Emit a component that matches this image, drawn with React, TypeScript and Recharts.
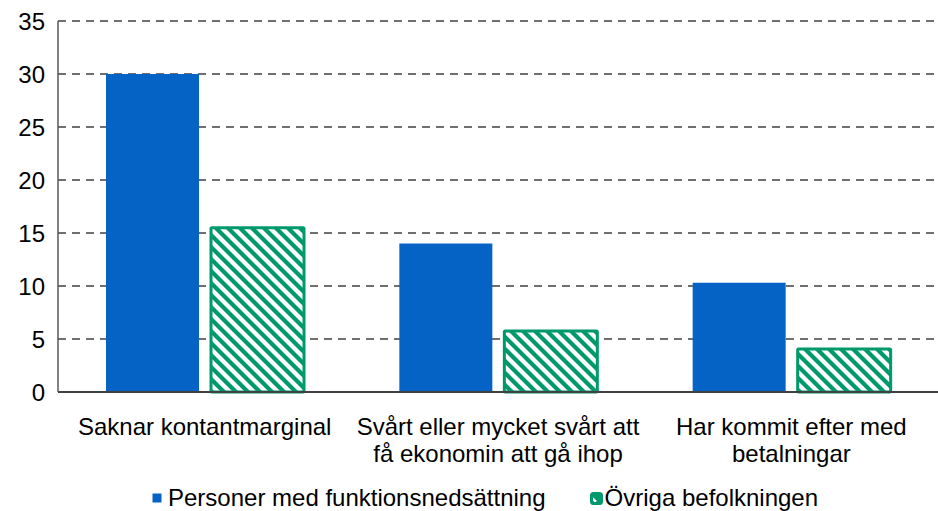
import React from "react";
import { BarChart, Bar, XAxis, YAxis, CartesianGrid, Legend } from "recharts";

const categories: string[][] = [
  ["Saknar kontantmarginal"],
  ["Svårt eller mycket svårt att", "få ekonomin att gå ihop"],
  ["Har kommit efter med", "betalningar"],
];
const disabled: number[] = [30.0, 14.0, 10.3];
const others: number[] = [15.5, 5.75, 4.05];
const yTicks: number[] = [0, 5, 10, 15, 20, 25, 30, 35];
const seriesNames = ["Personer med funktionsnedsättning", "Övriga befolkningen"];

const BLUE = "#0563C6";
const GREEN = "#00996B";
const FONT = "'Liberation Sans', Arial, sans-serif";
const FS = 24;

const data = categories.map((c, i) => ({
  name: c.join(" "),
  a: disabled[i],
  b: others[i],
}));

const XTick = (props: any) => {
  const { x, y, payload } = props;
  const lines: string[] = categories[payload.index] || [payload.value];
  return (
    <g transform={`translate(${x},${y})`}>
      <text textAnchor="middle" fill="#000" fontSize={FS} fontFamily={FONT}>
        {lines.map((l, i) => (
          <tspan key={i} x={0} dy={i === 0 ? 35 : 26.5}>
            {l}
          </tspan>
        ))}
      </text>
    </g>
  );
};

const HatchBar = (props: any) => {
  const { x, y, width, height } = props;
  if (!height || height <= 0) return null;
  return (
    <rect
      x={x}
      y={y}
      width={width}
      height={height}
      fill="url(#hatchGreen)"
      stroke={GREEN}
      strokeWidth={3}
      rx={1}
    />
  );
};

const LegendContent = () => (
  <div
    style={{
      display: "flex",
      justifyContent: "flex-start",
      alignItems: "center",
      height: 39,
      paddingTop: 13,
      paddingLeft: 152,
      boxSizing: "border-box",
      fontFamily: FONT,
      fontSize: FS,
      lineHeight: "26px",
      color: "#000",
      whiteSpace: "nowrap",
    }}
  >
    <div style={{ display: "flex", alignItems: "center", marginRight: 44 }}>
      <svg width={10} height={10} style={{ marginRight: 6 }}>
        <rect x={0.5} y={0.5} width={9} height={9} fill={BLUE} />
      </svg>
      <span>{seriesNames[0]}</span>
    </div>
    <div style={{ display: "flex", alignItems: "center" }}>
      <svg width={13} height={13} style={{ marginRight: 2 }}>
        <rect x={1.5} y={1.5} width={10} height={10} rx={2} fill="url(#hatchGreenSmall)" stroke={GREEN} strokeWidth={3} />
      </svg>
      <span>{seriesNames[1]}</span>
    </div>
  </div>
);

export default function App() {
  return (
    <div style={{ position: "absolute", left: 0, top: 0, width: 938, height: 511, background: "#fff" }}>
      <svg width={0} height={0} style={{ position: "absolute" }}>
        <defs>
          <pattern id="hatchGreen" patternUnits="userSpaceOnUse" width={12} height={12}>
            <rect width={12} height={12} fill="#fff" />
            <path d="M-3,-3 L15,15 M-9,3 L3,15 M9,-3 L21,9" stroke={GREEN} strokeWidth={4.2} />
          </pattern>
          <pattern id="hatchGreenSmall" patternUnits="userSpaceOnUse" width={10} height={10}>
            <rect width={10} height={10} fill={GREEN} />
            <path d="M0,4 L6,10" stroke="#fff" strokeWidth={2.5} />
          </pattern>
        </defs>
      </svg>
      <BarChart
        width={938}
        height={511}
        data={data}
        margin={{ top: 21, right: 0, left: 0, bottom: 0 }}
        barSize={93}
        barGap={12}
      >
        <CartesianGrid vertical={false} stroke="#404040" strokeDasharray="8 6" strokeWidth={1.5} />
        <XAxis
          dataKey="name"
          height={80}
          tick={<XTick />}
          tickLine={false}
          axisLine={{ stroke: "#404040", strokeWidth: 2 }}
          interval={0}
        />
        <YAxis
          width={58}
          domain={[0, 35]}
          ticks={yTicks}
          interval={0}
          tickLine={false}
          axisLine={{ stroke: "#595959", strokeWidth: 1.5 }}
          tick={{ fill: "#000", fontSize: FS, fontFamily: FONT }}
          tickMargin={7}
        />
        <Legend verticalAlign="bottom" height={39} content={<LegendContent />} />
        <Bar dataKey="a" name={seriesNames[0]} fill={BLUE} isAnimationActive={false} />
        <Bar dataKey="b" name={seriesNames[1]} shape={<HatchBar />} isAnimationActive={false} />
      </BarChart>
    </div>
  );
}
